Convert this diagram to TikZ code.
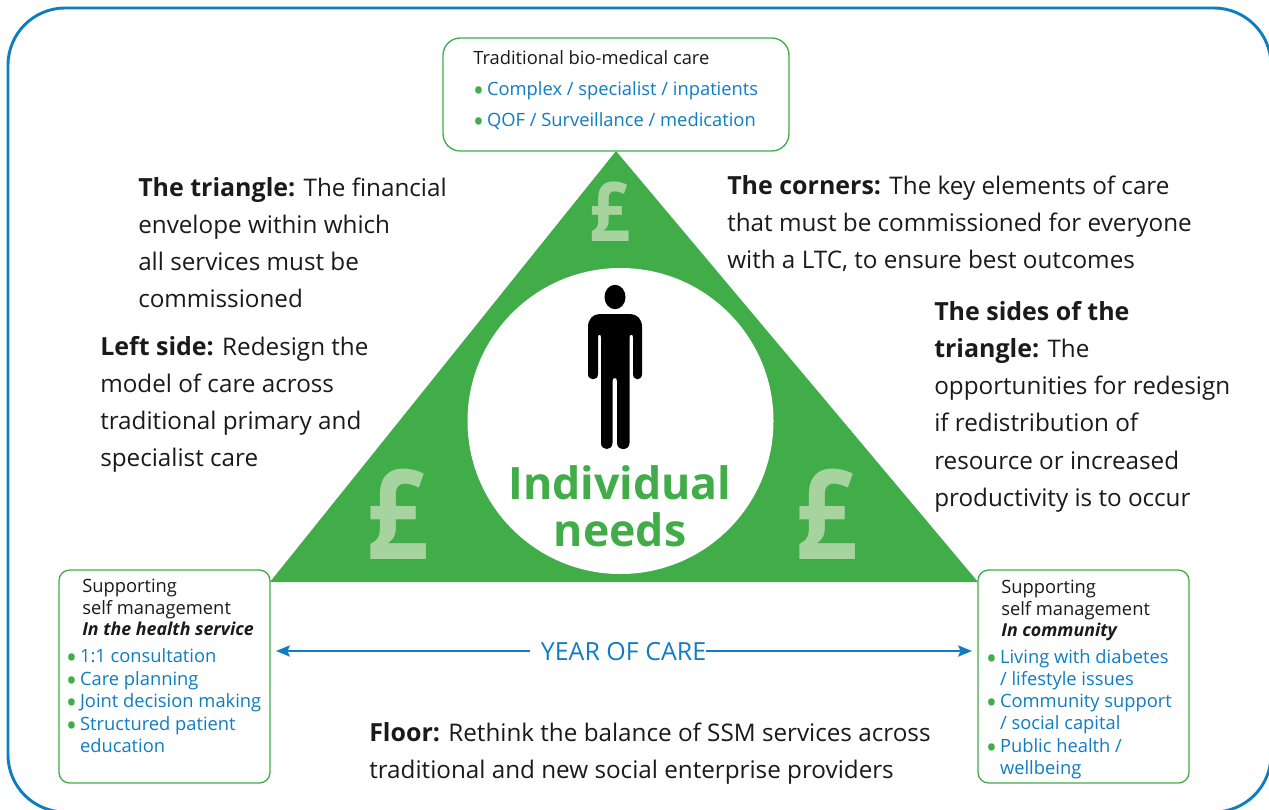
\documentclass[tikz,border=0pt]{standalone}
\usepackage{fontspec}
\setmainfont{Open Sans}
\usetikzlibrary{arrows.meta}
\definecolor{caregreen}{HTML}{41AD49}
\definecolor{carepale}{HTML}{A6D39E}
\definecolor{careblue}{HTML}{0F7DC2}
\definecolor{careink}{HTML}{1A1A1A}
\newcommand{\carebul}{\makebox[10.7bp][l]{\smash{\textcolor{caregreen}{\raisebox{-.33em}{\scalebox{1.65}{•}}}}}}
\newcommand{\careind}{\hspace*{10.7bp}}
\newcommand{\carelead}[1]{{\fontsize{18.8}{28}\selectfont\bfseries #1}}
\newcommand{\carepound}{\scalebox{.87}[1]{£}}
\tikzset{
  carebox/.style={draw=caregreen, line width=1pt, fill=white, rounded corners=13pt, inner sep=0},
  bodytext/.style={anchor=north west, inner sep=0, align=left, text=careink, font=\fontsize{18.25}{28}\selectfont},
  boxhead/.style={anchor=north west, inner sep=0, align=left, text=careink, font=\fontsize{13.8}{16.1}\selectfont},
  boxlist/.style={anchor=north west, inner sep=0, align=left, text=careblue, font=\fontsize{13.8}{16.9}\selectfont},
  pound/.style={inner sep=0, text=carepale},
  yeararrow/.style={careblue, line width=1.1pt, -{Stealth[length=10.5bp,width=8.5bp,inset=2bp]}, shorten >=4bp}
}
\begin{document}
\begin{tikzpicture}[x=.75bp,y=-.75bp]
\clip (0,0) rectangle (1269,809);
\draw[careblue, line width=2.2pt, rounded corners=43pt] (8,8) rectangle (1271,812);
% triangle and circle
\fill[caregreen] (616,151) -- (978,582) -- (270,582) -- cycle;
\fill[white] (620.5,421) circle (153);
\node[pound, font=\fontsize{62}{62}\selectfont\bfseries] (poundtop) at (610,212) {\carepound};
\node[pound, font=\fontsize{94}{94}\selectfont\bfseries] (poundleft) at (397,514) {\carepound};
\node[pound, font=\fontsize{94}{94}\selectfont\bfseries] (poundright) at (826,514) {\carepound};
% person
\fill[black] (615,297) ellipse (10.5 and 12.2);
\fill[black] (600,314) -- (630,314) .. controls (637,314) and (642,319) .. (642,327)
	-- (642,374) .. controls (642,381) and (633,381) .. (633,374)
	-- (633,337) .. controls (633,334) and (629.5,334) .. (629.5,337)
	-- (629.5,443) .. controls (629.5,451) and (617,451) .. (617,443)
	-- (617,381) .. controls (617,377) and (612.5,377) .. (612.5,381)
	-- (612.5,443) .. controls (612.5,451) and (601,451) .. (601,443)
	-- (601,337) .. controls (601,334) and (598,334) .. (598,337)
	-- (598,374) .. controls (598,381) and (588,381) .. (588,374)
	-- (588,327) .. controls (588,319) and (593,314) .. (600,314) -- cycle;
\node[inner sep=0, align=center, text=caregreen, font=\fontsize{33.6}{35.2}\selectfont\bfseries] (needs) at (620,506) {Individual\\needs};
% boxes
\node[carebox, minimum width=346*.75bp, minimum height=113*.75bp] (topbox) at (616,94.5) {};
\node[carebox, minimum width=211*.75bp, minimum height=213*.75bp, rounded corners=8pt] (leftbox) at (164.5,676.5) {};
\node[carebox, minimum width=211*.75bp, minimum height=213*.75bp, rounded corners=8pt] (rightbox) at (1083.5,676.5) {};
\node[boxhead] (tophead) at (473,50) {Traditional bio-medical care};
\node[boxlist, font=\fontsize{13.8}{23.2}\selectfont] (toplist) at (472.5,81) {\carebul Complex / specialist / inpatients\\\carebul QOF / Surveillance / medication};
\node[boxhead] (lefthead) at (82,579) {Supporting\\self management\\\textbf{\textit{\fontsize{13.4}{16.1}\selectfont In the health service}}};
\node[boxlist] (leftlist) at (65.5,648.5) {\carebul 1:1 consultation\\\carebul Care planning\\\carebul Joint decision making\\\carebul Structured patient\\\careind education};
\node[boxhead] (righthead) at (1001,580) {Supporting\\self management\\\textbf{\textit{\fontsize{13.4}{16.1}\selectfont In community}}};
\node[boxlist, font=\fontsize{13.8}{16.75}\selectfont] (rightlist) at (985.5,649) {\carebul Living with diabetes\\\careind / lifestyle issues\\\carebul Community support\\\careind / social capital\\\carebul Public health /\\\careind wellbeing};
% year of care
\node[inner sep=0, text=careblue, font=\fontsize{18.8}{18.8}\selectfont] (yearcare) at (623.5,652) {YEAR OF CARE};
\coordinate (yearleft) at (530,651);
\coordinate (yearright) at (706,651);
\draw[yeararrow] (yearleft) -- (yearleft -| leftbox.east);
\draw[yeararrow] (yearright) -- (yearright -| rightbox.west);
% text
\node[bodytext] (triangletext) at (138,177) {\carelead{The triangle:} The financial\\envelope within which\\all services must be\\commissioned};
\node[bodytext] (cornertext) at (727,175) {\carelead{The corners:} The key elements of care\\that must be commissioned for everyone\\with a LTC, to ensure best outcomes};
\node[bodytext] (sidestext) at (934,301) {\carelead{The sides of the}\\\carelead{triangle:} The\\opportunities for redesign\\if redistribution of\\resource or increased\\productivity is to occur};
\node[bodytext] (lefttext) at (100,336) {\carelead{Left side:} Redesign the\\model of care across\\traditional primary and\\specialist care};
\node[bodytext] (floortext) at (369,722) {\carelead{Floor:} Rethink the balance of SSM services across\\traditional and new social enterprise providers};
\end{tikzpicture}
\end{document}
